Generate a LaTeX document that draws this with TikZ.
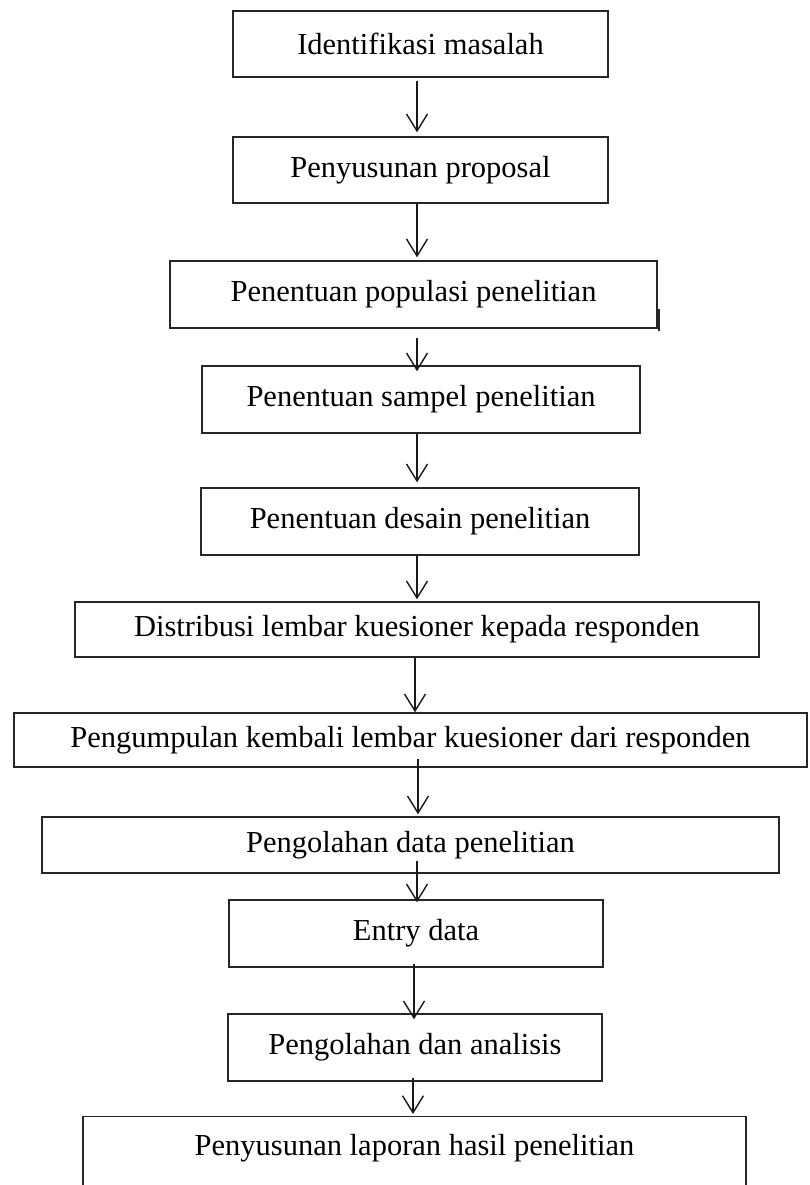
\documentclass[tikz,border=0pt]{standalone}
\usepackage{fontspec}
\setmainfont{Liberation Serif}
\usetikzlibrary{arrows.meta,calc}
\begin{document}
\begin{tikzpicture}[x=1pt,y=-1pt,
  box/.style={draw=black!85,line width=1.4pt,inner sep=0pt,
    font=\fontsize{30.5}{36}\selectfont},
  arr/.style={draw=black!90,line width=1.4pt,
    -{Straight Barb[length=17pt,width=21pt,line width=1.4pt]}}]
\useasboundingbox (0,0) rectangle (809,1185);
\node[box,minimum width=375pt,minimum height=66pt] (b1) at (420.5,44) {Identifikasi masalah};
\node[box,minimum width=375pt,minimum height=66pt] (b2) at (420.5,170) {Penyusunan proposal};
\node[box,minimum width=487pt,minimum height=67pt] (b3) at (413.5,294.5) {Penentuan populasi penelitian};
\node[box,minimum width=438pt,minimum height=67pt] (b4) at (421,399.5) {Penentuan sampel penelitian};
\node[box,minimum width=438pt,minimum height=67pt] (b5) at (420,521.5) {Penentuan desain penelitian};
\node[box,minimum width=684pt,minimum height=55pt] (b6) at (417,629.5) {Distribusi lembar kuesioner kepada responden};
\node[box,minimum width=793pt,minimum height=54pt] (b7) at (410.5,740) {Pengumpulan kembali lembar kuesioner dari responden};
\node[box,minimum width=737pt,minimum height=56pt] (b8) at (410.5,845) {Pengolahan data penelitian};
\node[box,minimum width=374pt,minimum height=67pt] (b9) at (416,933.5) {Entry data};
\node[box,minimum width=374pt,minimum height=67pt] (b10) at (415,1047.5) {Pengolahan dan analisis};
\node[box,minimum width=663pt,anchor=north,text height=39pt,text depth=70pt] (b11) at (414.5,1116) {Penyusunan laporan hasil penelitian};
% small mark at right of box 3
\draw[line width=2pt,black!85] ($(b3.south east)+(1.5,2)$) -- ($(b3.south east)+(1.5,-20)$);
% arrows
\draw[arr,shorten <=3pt,shorten >=4pt] (b1.south -| 417,0) -- (b2.north -| 417,0);
\draw[arr,shorten >=3pt] (b2.south -| 417,0) -- (b3.north -| 417,0);
\draw[arr,shorten <=9pt,shorten >=-6pt] (b3.south -| 417,0) -- (b4.north -| 417,0);
\draw[arr,shorten >=5pt] (b4.south -| 417,0) -- (b5.north -| 417,0);
\draw[arr,shorten >=2pt] (b5.south -| 417,0) -- (b6.north -| 417,0);
\draw[arr] (b6.south -| 415,0) -- (b7.north -| 415,0);
\draw[arr,shorten <=-9pt,shorten >=2pt] (b7.south -| 418,0) -- (b8.north -| 418,0);
\draw[arr,shorten <=-13pt,shorten >=-3pt] (b8.south -| 417,0) -- (b9.north -| 417,0);
\draw[arr,shorten <=-4pt,shorten >=-6pt] (b9.south -| 414,0) -- (b10.north -| 414,0);
\draw[arr,shorten <=-4pt,shorten >=2pt] (b10.south -| 413,0) -- (b11.north -| 413,0);
\end{tikzpicture}
\end{document}
